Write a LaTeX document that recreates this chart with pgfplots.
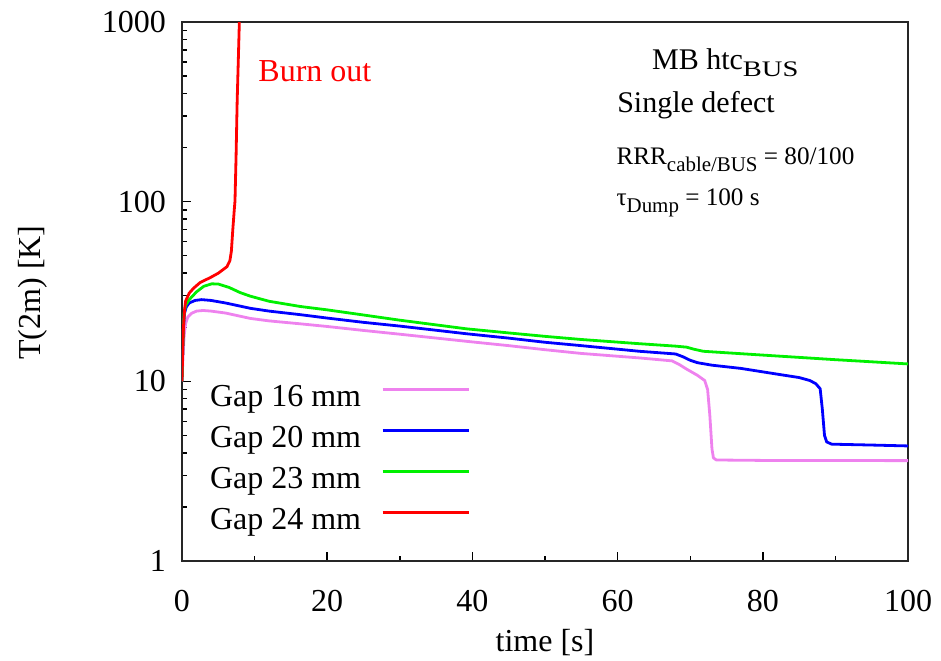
\documentclass[border=0pt]{standalone}
\usepackage{fontspec}
\setmainfont{Liberation Serif}
\usepackage{graphicx}
\usepackage{pgfplots}
\pgfplotsset{compat=1.18}

\definecolor{gapviolet}{RGB}{238,130,238}
\definecolor{gapblue}{RGB}{0,0,255}
\definecolor{gapgreen}{RGB}{0,240,0}
\definecolor{gapred}{RGB}{255,0,0}

% wide, lowered subscript (title line)
\newcommand{\sub}[1]{\raisebox{-0.45ex}{\scalebox{0.95}[0.74]{#1}}}
% lowered subscript (parameter lines)
\newcommand{\psub}[1]{\raisebox{-0.6ex}{\scalebox{0.83}{#1}}}

\begin{document}
\begin{tikzpicture}
\path[use as bounding box] (-91pt,-49.5pt) rectangle (379.5pt,280.5pt);
\begin{axis}[
  scale only axis,
  width=363pt, height=269.5pt,
  xmin=0, xmax=100,
  ymode=log, ymin=1, ymax=1000,
  xtick={0,20,40,60,80,100},
  minor x tick num=1,
  ytick={1,10,100,1000},
  yticklabels={1,10,100,1000},
  xtick pos=bottom, ytick pos=left,
  tick align=inside,
  major tick length=4.5pt,
  minor tick length=2.5pt,
  every tick/.style={black, line width=0.7pt},
  axis line style={line width=0.9pt, black!85},
  font=\fontsize{16}{19}\selectfont,
  /pgf/number format/assume math mode=true,
  ticklabel style={font=\fontsize{16}{19}\selectfont},
  yticklabel style={xshift=-4.5pt},
  xticklabel style={yshift=-11pt},
  xlabel={time [s]},
  ylabel={T(2m) [K]},
  xlabel style={at={(axis description cs:0.5,-0.151)}, anchor=center},
  ylabel style={at={(axis description cs:-0.206,0.498)}, anchor=center, rotate=0},
  legend plot pos=right,
  legend cell align=left,
  legend style={
    at={(rel axis cs:0.0386,0.330)}, anchor=north west,
    draw=none, fill=none, inner sep=0pt, outer sep=0pt,
    row sep=5pt, column sep=10pt,
    nodes={inner sep=0pt, text height=11.5pt, text depth=4pt,
           font=\fontsize{16}{19}\selectfont},
  },
  legend image code/.code={\draw[#1] (0pt,4.5pt) -- (43pt,4.5pt);},
  every axis plot/.append style={line width=1.4pt, line join=round},
]
% Gap 16 mm
\addplot[gapviolet] coordinates {
 (0,10) (0.15,14) (0.3,18) (0.5,21) (0.8,22.8) (1.3,23.9) (2.0,24.6)
 (2.9,24.8) (4,24.6) (6,24.0) (9.4,22.4) (12,21.7) (16.3,20.9) (20,20.2)
 (25,19.2) (30,18.3) (39.2,16.7) (45,15.8) (50,15.0) (55,14.3) (63,13.5)
 (67.5,13.0) (68.5,12.4) (69.5,11.7) (71,10.8) (72,10.1) (72.4,9.0)
 (72.7,6.5) (73.0,4.2) (73.2,3.75) (73.6,3.65) (80,3.63) (100,3.62)
};
% Gap 20 mm
\addplot[gapblue] coordinates {
 (0,10) (0.1,15) (0.2,20) (0.35,24) (0.6,26) (1,27.3) (1.8,28.2)
 (2.7,28.5) (4,28.2) (6,27.3) (9.4,25.5) (12,24.6) (16.3,23.5) (20,22.5)
 (25,21.3) (30,20.3) (39.2,18.4) (45,17.4) (50,16.5) (55,15.8) (63,14.7)
 (68,14.2) (69,13.7) (70,13.1) (71,12.7) (73,12.3) (77,11.8) (82.4,10.9)
 (85,10.5) (86.5,10.1) (87.3,9.7) (87.9,9.1) (88.2,7.0) (88.5,5.0)
 (88.8,4.6) (89.5,4.47) (95,4.42) (100,4.37)
};
% Gap 23 mm
\addplot[gapgreen] coordinates {
 (0,10) (0.1,15) (0.2,20) (0.3,24) (0.5,26.5) (1,28.5) (2,31.5)
 (3,33.8) (4.1,34.9) (5,34.8) (6.5,33.3) (8,31.2) (9.4,29.8) (12,27.9)
 (16.3,26.1) (20,25.0) (25,23.4) (30,21.9) (39.2,19.6) (45,18.6)
 (50,17.8) (55,17.1) (63,16.2) (68,15.7) (69.5,15.5) (70.5,15.1)
 (71.8,14.7) (80,14.0) (90,13.2) (100,12.5)
};
% Gap 24 mm
\addplot[gapred] coordinates {
 (0,10) (0.1,15) (0.2,20) (0.35,25) (0.5,28) (1,31) (1.6,33) (2.5,35.5)
 (3.9,37.8) (5,40) (6.2,43.5) (6.6,47) (6.8,53) (7.0,70) (7.2,90)
 (7.3,101) (7.45,180) (7.6,364) (7.75,600) (7.9,1000) (8.0,1300)
};
\legend{Gap 16 mm, Gap 20 mm, Gap 23 mm, Gap 24 mm}

\begin{scope}[every node/.style={inner sep=0pt, anchor=base west}]
\node[text=gapred, font=\fontsize{16}{19}\selectfont] at (rel axis cs:0.1047,0.889) {Burn out};
\node[font=\fontsize{15}{18}\selectfont] at (rel axis cs:0.647,0.911) {MB htc\sub{BUS}};
\node[font=\fontsize{15}{18}\selectfont] at (rel axis cs:0.599,0.833) {Single defect};
\node[font=\fontsize{12.6}{15}\selectfont] at (rel axis cs:0.598,0.735)
  {RRR\psub{cable/BUS} = 80/100};
\node[font=\fontsize{12.6}{15}\selectfont] at (rel axis cs:0.598,0.659)
  {τ\psub{Dump} = 100 s};
\end{scope}
\end{axis}
\end{tikzpicture}
\end{document}
